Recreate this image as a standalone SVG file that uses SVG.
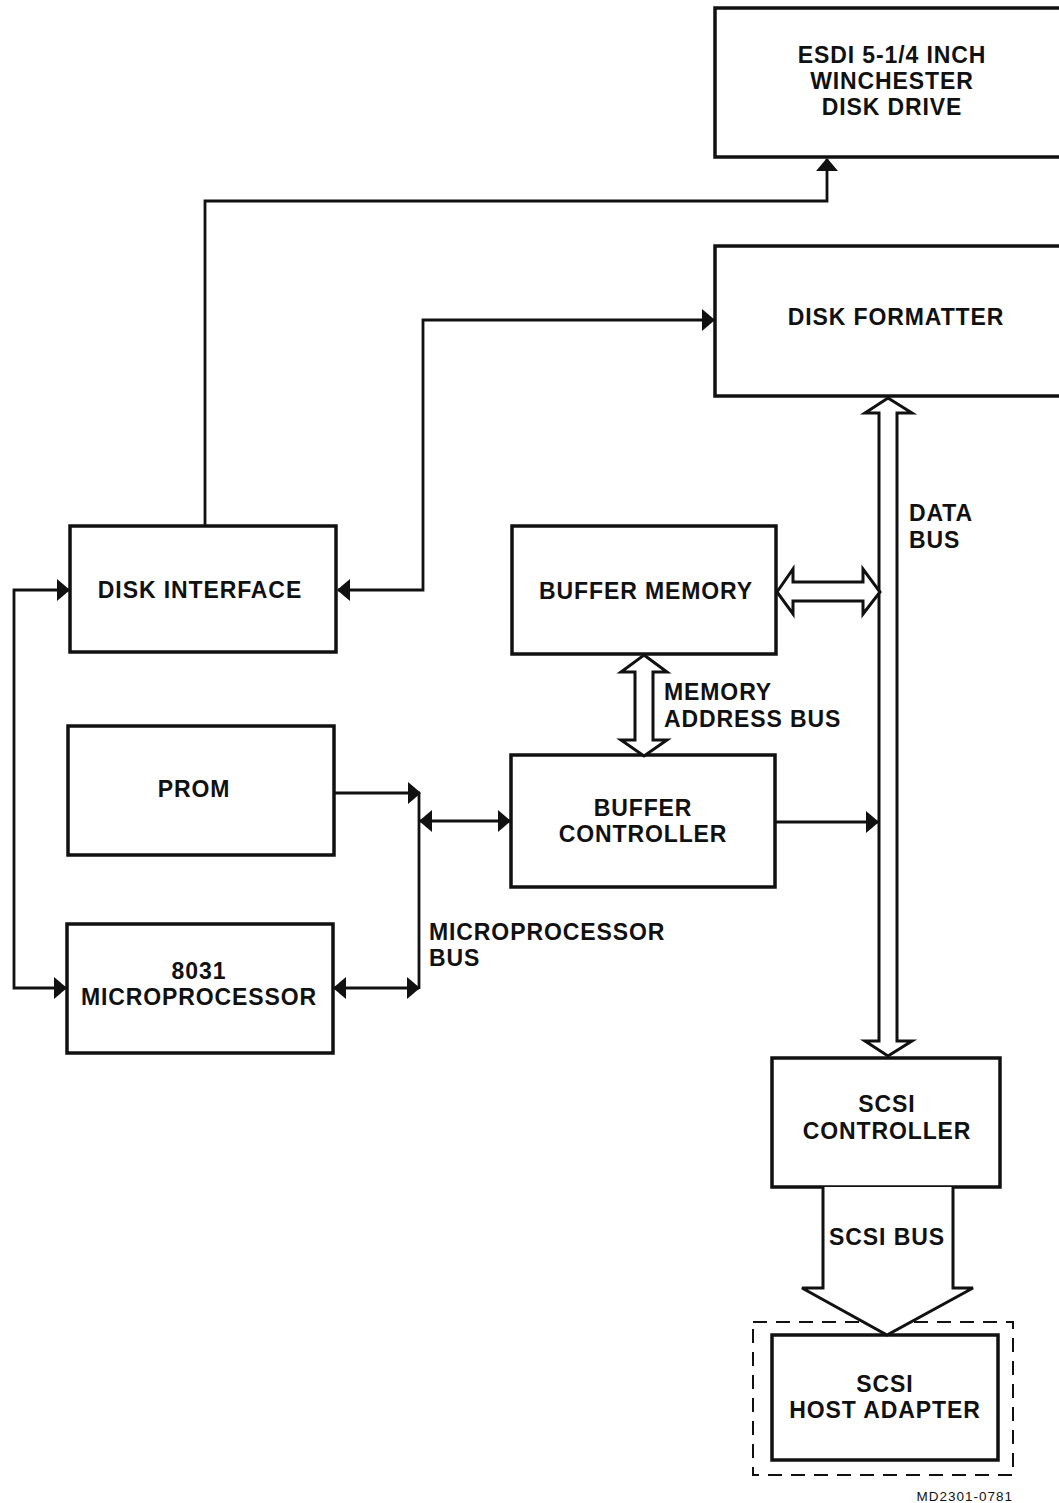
<svg xmlns="http://www.w3.org/2000/svg" width="1059" height="1503" viewBox="0 0 1059 1503">
<style>
.box{fill:#fff;stroke:#111;stroke-width:3.5}
.t{font-family:"Liberation Sans",Arial,sans-serif;font-weight:bold;font-size:23px;letter-spacing:0.9px;fill:#111;text-anchor:middle}
.tl{font-family:"Liberation Sans",Arial,sans-serif;font-weight:bold;font-size:23px;letter-spacing:0.9px;fill:#111}
.c{fill:none;stroke:#111;stroke-width:2.8}
.hol{fill:#fff;stroke:#111;stroke-width:3;stroke-linejoin:miter}
</style>
<defs>
<marker id="ah" markerUnits="userSpaceOnUse" markerWidth="13" markerHeight="22" refX="12" refY="11" orient="auto-start-reverse">
<path d="M0,0 L13,11 L0,22 Z" fill="#111"/>
</marker>
</defs>
<rect width="1059" height="1503" fill="#fff"/>

<g id="esdi">
<rect class="box" x="715" y="8" width="360" height="149"/>
<text class="t" x="892" y="63">ESDI 5-1/4 INCH</text>
<text class="t" x="892" y="89">WINCHESTER</text>
<text class="t" x="892" y="115">DISK DRIVE</text>
</g>

<g id="formatter">
<rect class="box" x="715" y="246" width="360" height="150"/>
<text class="t" x="896" y="325">DISK FORMATTER</text>
</g>

<g id="disk-interface">
<rect class="box" x="70" y="526" width="266" height="126"/>
<text class="t" x="200" y="598">DISK INTERFACE</text>
</g>

<g id="buffer-memory">
<rect class="box" x="512" y="526" width="264" height="128"/>
<text class="t" x="646" y="599">BUFFER MEMORY</text>
</g>

<g id="prom">
<rect class="box" x="68" y="726" width="266" height="129"/>
<text class="t" x="194" y="797">PROM</text>
</g>

<g id="buffer-controller">
<rect class="box" x="511" y="755" width="264" height="132"/>
<text class="t" x="643" y="816">BUFFER</text>
<text class="t" x="643" y="842">CONTROLLER</text>
</g>

<g id="microprocessor">
<rect class="box" x="67" y="924" width="266" height="129"/>
<text class="t" x="199" y="979">8031</text>
<text class="t" x="199" y="1005">MICROPROCESSOR</text>
</g>

<g id="scsi-controller">
<rect class="box" x="772" y="1058" width="228" height="129"/>
<text class="t" x="887" y="1112">SCSI</text>
<text class="t" x="887" y="1139">CONTROLLER</text>
</g>

<g id="host-adapter">
<rect x="753" y="1322" width="260" height="153" fill="none" stroke="#111" stroke-width="2" stroke-dasharray="14,9"/>
<rect class="box" x="772" y="1335" width="226" height="125" stroke-width="4.5"/>
<text class="t" x="885" y="1392">SCSI</text>
<text class="t" x="885" y="1418">HOST ADAPTER</text>
</g>

<g id="connectors">
<path class="c" d="M205,526 V201 H827 V159" marker-end="url(#ah)"/>
<path class="c" d="M338,590 H423 V320 H714" marker-start="url(#ah)" marker-end="url(#ah)"/>
<path class="c" d="M69,590 H14 V988 H66" marker-start="url(#ah)" marker-end="url(#ah)"/>
<path class="c" d="M334,793 H420" marker-end="url(#ah)"/>
<path class="c" d="M419,793 V989"/>
<path class="c" d="M420,821 H510" marker-start="url(#ah)" marker-end="url(#ah)"/>
<path class="c" d="M334,988 H419" marker-start="url(#ah)" marker-end="url(#ah)"/>
<path class="c" d="M776,822 H878" marker-end="url(#ah)"/>
<path class="hol" d="M888,398 L912,413 L897,413 L897,1041 L912,1041 L888,1056 L865,1041 L879,1041 L879,413 L865,413 Z"/>
<path class="hol" d="M777,592 L793,569 L793,582 L863,582 L863,569 L880,592 L863,614 L863,601 L793,601 L793,614 Z"/>
<path class="hol" d="M644,655 L667,672 L653,672 L653,740 L667,740 L644,756 L621,740 L635,740 L635,672 L621,672 Z"/>
<path class="hol" d="M823,1187 L823,1288 L802,1288 L887,1335 L973,1288 L953,1288 L953,1187"/>
</g>

<g id="labels">
<text class="tl" x="909" y="521">DATA</text>
<text class="tl" x="909" y="548">BUS</text>
<text class="tl" x="664" y="700">MEMORY</text>
<text class="tl" x="664" y="727">ADDRESS BUS</text>
<text class="tl" x="429" y="940">MICROPROCESSOR</text>
<text class="tl" x="429" y="966">BUS</text>
<text class="t" x="887" y="1245">SCSI BUS</text>
<text x="1013" y="1501" font-family="Liberation Sans,Arial,sans-serif" font-size="13.5" letter-spacing="1" text-anchor="end" fill="#111">MD2301-0781</text>
</g>
</svg>
